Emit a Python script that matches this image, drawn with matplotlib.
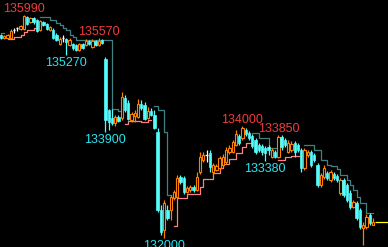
import numpy as np
import matplotlib
matplotlib.use('Agg')
from matplotlib import pyplot as plt
from matplotlib.patches import Rectangle

plt.rcParams['font.family'] = ['Liberation Sans', 'DejaVu Sans']

# candle prices, one entry per bar
opens = [135630, 135580, 135580, 135580, 135720, 135760, 135740, 135740, 135950, 135860,
         135940, 135900, 135720, 135860, 135830, 135720, 135720, 135630, 135470, 135580,
         135560, 135450, 135470, 135450, 135360, 135470, 135450, 135520, 135420, 135520,
         135450, 135540, 135200, 134290, 134150, 134060, 134160, 134150, 134500, 134410,
         134110, 134180, 134160, 134400, 134380, 134150, 134270, 134200, 133900, 132500,
         132140, 132500, 132500, 132710, 132730, 133090, 133070, 132820, 132860, 132910,
         132860, 133180, 133390, 133480, 133520, 133180, 133220, 133250, 133300, 133360,
         133540, 133540, 133660, 133820, 133790, 133930, 133880, 133820, 133750, 133660,
         133640, 133610, 133630, 133450, 133540, 133450, 133810, 133750, 133540, 133570,
         133700, 133660, 133570, 133250, 133480, 133540, 133480, 133300, 132950, 133090,
         133160, 133040, 133140, 133110, 132800, 133040, 132950, 132800, 132550, 132620,
         132500, 132180, 132190, 132410, 132230]
highs = [135650, 135630, 135650, 135740, 135760, 135780, 135810, 135990, 135970, 135950,
         135950, 135920, 135900, 135880, 135850, 135790, 135760, 135670, 135600, 135630,
         135580, 135580, 135490, 135470, 135490, 135490, 135560, 135540, 135560, 135540,
         135570, 135560, 135240, 134310, 134310, 134200, 134200, 134610, 134560, 134470,
         134250, 134290, 134490, 134470, 134430, 134340, 134320, 134290, 133970, 132590,
         132680, 132590, 132770, 132860, 133130, 133130, 133110, 132930, 132950, 132950,
         133180, 133540, 133540, 133570, 133570, 133340, 133320, 133470, 133500, 133630,
         133660, 133750, 133930, 133860, 134000, 133970, 133910, 133860, 133790, 133700,
         133680, 133640, 133660, 133610, 133570, 133850, 133840, 133790, 133750, 133730,
         133730, 133700, 133610, 133610, 133570, 133570, 133520, 133340, 133160, 133300,
         133200, 133220, 133180, 133140, 133070, 133070, 132980, 132860, 132680, 132660,
         132540, 132280, 132430, 132450, 132360]
lows = [135560, 135560, 135560, 135560, 135670, 135700, 135720, 135720, 135810, 135850,
        135830, 135690, 135700, 135790, 135720, 135700, 135560, 135520, 135450, 135510,
        135270, 135430, 135360, 135340, 135340, 135380, 135430, 135450, 135400, 135430,
        135430, 135470, 133900, 133930, 134020, 134000, 134070, 134110, 134250, 134110,
        134070, 134070, 134150, 134290, 134110, 134130, 134180, 133950, 132460, 132050,
        132000, 132320, 132320, 132680, 132710, 132960, 132790, 132800, 132820, 132820,
        132840, 133140, 133360, 133360, 133180, 133130, 133200, 133220, 133270, 133320,
        133500, 133520, 133640, 133660, 133750, 133820, 133750, 133610, 133500, 133540,
        133480, 133380, 133480, 133430, 133430, 133430, 133570, 133630, 133520, 133540,
        133450, 133540, 133180, 133220, 133450, 133270, 133360, 132910, 132910, 133050,
        133040, 133000, 133040, 133000, 132770, 132730, 132640, 132520, 132540, 132320,
        132160, 131870, 132160, 132230, 132230]
closes = [135580, 135610, 135630, 135700, 135720, 135760, 135790, 135970, 135830, 135940,
          135860, 135700, 135880, 135810, 135740, 135780, 135580, 135540, 135560, 135580,
          135510, 135540, 135400, 135360, 135470, 135400, 135520, 135470, 135520, 135450,
          135520, 135490, 134110, 134070, 134060, 134160, 134090, 134520, 134290, 134130,
          134220, 134240, 134400, 134320, 134130, 134270, 134200, 133970, 132500, 132110,
          132620, 132360, 132730, 132820, 133070, 133000, 132820, 132890, 132910, 132860,
          133090, 133450, 133480, 133480, 133270, 133300, 133290, 133430, 133450, 133570,
          133610, 133720, 133860, 133700, 133970, 133860, 133790, 133640, 133540, 133570,
          133540, 133520, 133570, 133570, 133450, 133810, 133630, 133660, 133700, 133680,
          133540, 133570, 133250, 133570, 133540, 133300, 133390, 132950, 133130, 133250,
          133070, 133180, 133070, 133040, 133040, 132770, 132680, 132550, 132640, 132360,
          132190, 132230, 132370, 132270, 132280]

# trailing stop lines: first bar of each segment and its levels
teal_start = [0, 12, 47, 77, 93]
teal_levels = [
    [135670, 135670],
    [135950, 135950, 135950, 135900, 135900, 135850, 135810, 135760, 135720, 135630,
     135600, 135550, 135550, 135550, 135550, 135550, 135550, 135550, 135550, 135550,
     135550, 135550, 134310, 134310, 134270, 134270],
    [134360, 134290, 134290, 133900, 132770, 132770],
    [133880, 133880, 133790, 133790, 133790, 133610, 133610, 133610, 133610],
    [133660, 133660, 133660, 133570, 133570, 133390, 133390, 133300, 133280, 133280,
     133230, 133130, 133130, 133040, 132950, 132860, 132730, 132620, 132620, 132450,
     132450, 132450],
]
pink_start = [2, 38, 53, 85]
pink_levels = [
    [135560, 135560, 135600, 135600, 135630, 135690, 135720, 135720, 135760, 135760],
    [134040, 134090, 134090, 134090, 134090, 134070, 134070, 134110, 134110],
    [132210, 132710, 132710, 132710, 132790, 132790, 132790, 132790, 132910, 133050,
     133050, 133050, 133160, 133160, 133250, 133330, 133330, 133410, 133410, 133520,
     133520, 133630, 133700, 133700, 133700],
    [133390, 133390, 133450, 133450, 133470, 133470, 133470, 133470],
]

# marked extremes
high_marks = [7, 30, 74, 85]
low_marks = [20, 32, 50, 81]

UP = '#FF8000'
DOWN = '#54FCFC'

fig = plt.figure(figsize=(3.88, 2.47), dpi=100)
fig.patch.set_facecolor('black')
ax = fig.add_axes([0, 0, 1, 1])
ax.set_facecolor('black')
ax.axis('off')

w = 0.72
for i, (o, h, l, c) in enumerate(zip(opens, highs, lows, closes)):
    if c > o:
        col = UP
    elif c < o:
        col = DOWN
    else:
        col = 'white'
    ax.vlines(i, l, h, color=col, lw=0.9, zorder=2)
    if c == o:
        ax.hlines(o, i - w / 2, i + w / 2, color=col, lw=0.9, zorder=3)
    elif c > o:
        ax.add_patch(Rectangle((i - w / 2, o), w, c - o, facecolor='black',
                               edgecolor=col, lw=0.8, zorder=3))
    else:
        ax.add_patch(Rectangle((i - w / 2, c), w, o - c, facecolor=col,
                               edgecolor=col, lw=0.5, zorder=3))

for s, lev in zip(teal_start, teal_levels):
    ax.step(np.arange(s, s + len(lev)), lev, where='post', color='#408080', lw=0.9, zorder=1)
for s, lev in zip(pink_start, pink_levels):
    ax.step(np.arange(s, s + len(lev)), lev, where='post', color='#FF8080', lw=0.9, zorder=1)

# last price line
n = len(closes)
ax.hlines(closes[-1], n - 0.4, n + 5, color='#FFFF00', lw=0.9)

for i in high_marks:
    ax.annotate(str(highs[i]), (i, highs[i]), xytext=(0, 3), textcoords='offset pixels',
                ha='center', va='baseline', color='#F03C3C', fontsize=9)
for i in low_marks:
    ax.annotate(str(lows[i]), (i, lows[i]), xytext=(0, -2), textcoords='offset pixels',
                ha='center', va='top', color='#28E6F0', fontsize=9)

ax.set_xlim(-0.306, 118.6)
ax.set_ylim(131837, 136258)

plt.savefig('out.png', dpi=100, facecolor='black')
